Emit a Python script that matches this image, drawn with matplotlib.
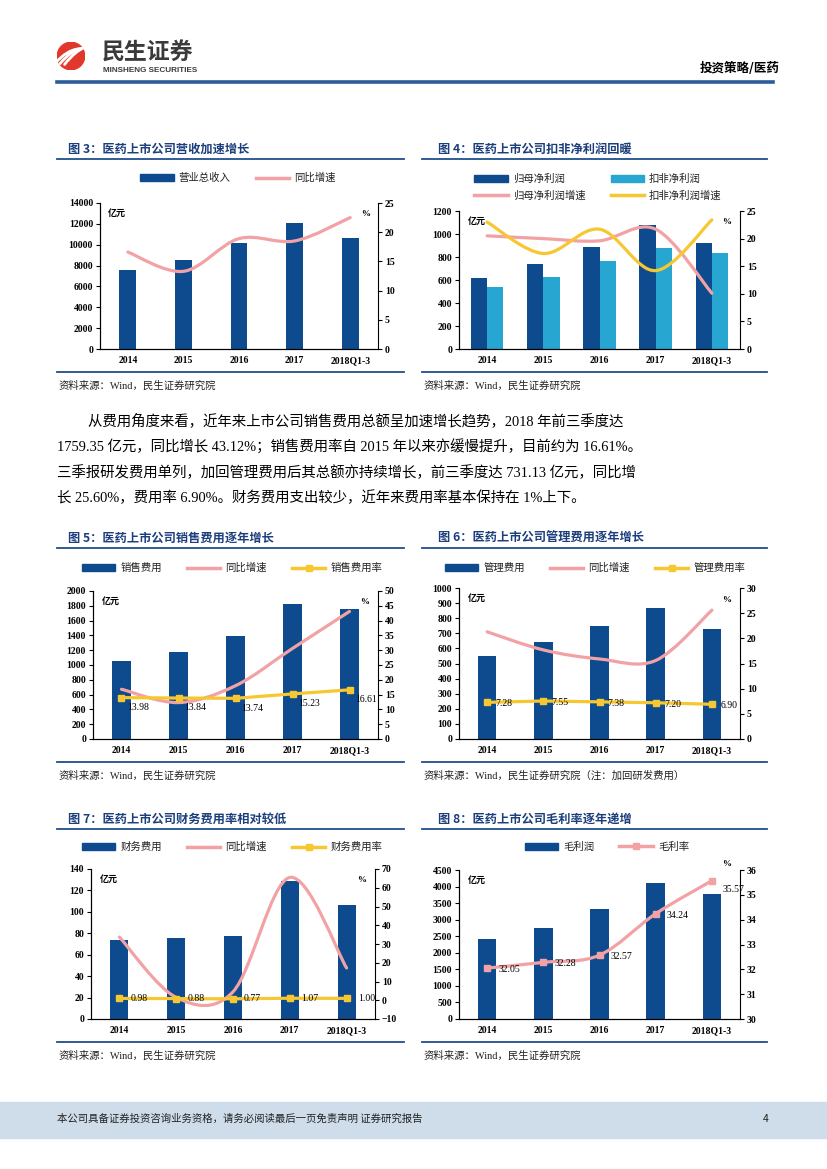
import numpy as np
import matplotlib
matplotlib.use('Agg')
import matplotlib.pyplot as plt
import matplotlib.patches as mpatches
from matplotlib.path import Path
from matplotlib.lines import Line2D


W, H = 827, 1169

CJK = ['Noto Sans CJK SC', 'DejaVu Sans']
MIX = ['Liberation Serif', 'Noto Sans CJK SC', 'DejaVu Sans']

DARK = '#0D4B8E'
LIGHT = '#26A6D1'
PINK = '#F2A2A4'
GOLD = '#F7C731'
NAVY = '#1C3F7C'
RULE = '#1F4E8C'
TXT = '#222222'

years = ['2014', '2015', '2016', '2017', '2018Q1-3']

# 图3 营收
revenue = [7570, 8560, 10200, 12080, 10640]
revenue_growth = [16.6, 13.3, 18.9, 18.5, 22.5]

# 图4 净利润
np_parent = [616, 740, 888, 1076, 922]
np_deducted = [535, 630, 769, 879, 839]
np_parent_growth = [20.5, 20.0, 19.6, 21.7, 10.1]
np_deducted_growth = [23.0, 17.3, 21.7, 14.2, 23.4]

# 图5 销售费用
sales_exp = [1054, 1179, 1390, 1830, 1759]
sales_growth = [16.8, 12.3, 18.0, 30.6, 43.1]
sales_rate = [13.98, 13.84, 13.74, 15.23, 16.61]

# 图6 管理费用
admin_exp = [547, 645, 750, 868, 731]
admin_growth = [21.3, 17.7, 15.9, 15.6, 25.6]
admin_rate = [7.28, 7.55, 7.38, 7.20, 6.90]

# 图7 财务费用
fin_exp = [74, 75.6, 77.8, 128.5, 106.7]
fin_growth = [33.7, 1.5, 4.5, 65.5, 17.2]
fin_rate = [0.98, 0.88, 0.77, 1.07, 1.00]

# 图8 毛利
gross_profit = [2421, 2762, 3315, 4118, 3767]
gross_margin = [32.05, 32.28, 32.57, 34.24, 35.57]

para = ['从费用角度来看，近年来上市公司销售费用总额呈加速增长趋势，2018 年前三季度达',
		'1759.35 亿元，同比增长 43.12%；销售费用率自 2015 年以来亦缓慢提升，目前约为 16.61%。',
		'三季报研发费用单列，加回管理费用后其总额亦持续增长，前三季度达 731.13 亿元，同比增',
		'长 25.60%，费用率 6.90%。财务费用支出较少，近年来费用率基本保持在 1%上下。']


def fx(x):
	return x / W


def fy(y):
	return 1 - y / H


def hline(fig, x0, x1, y, color=RULE, lw=1.3):
	fig.add_artist(Line2D([fx(x0), fx(x1)], [fy(y), fy(y)], color=color, lw=lw,
						  transform=fig.transFigure))


def smooth_path(xs, ys):
	""" Excel style smoothed line through the points, as cubic bezier segments """
	pts = np.column_stack([xs, ys]).astype(float)
	n = len(pts)
	verts = [pts[0]]
	codes = [Path.MOVETO]
	for i in range(n - 1):
		p0 = pts[max(i - 1, 0)]
		p1 = pts[i]
		p2 = pts[i + 1]
		p3 = pts[min(i + 2, n - 1)]
		verts += [p1 + (p2 - p0) / 6.0, p2 - (p3 - p1) / 6.0, p2]
		codes += [Path.CURVE4] * 3
	return Path(verts, codes)


def smooth_line(ax, values, color, lw=2.3, zorder=3):
	path = smooth_path(np.arange(len(values)), values)
	ax.add_patch(mpatches.PathPatch(path, facecolor='none', edgecolor=color, lw=lw,
									capstyle='round', zorder=zorder))


def chart_frame(fig, box, left_max, left_step, right_min, right_max, right_step, pct_y=0.95):
	l, t, r, b = box
	ax = fig.add_axes([fx(l), fy(b), (r - l) / W, (b - t) / H])
	ax2 = ax.twinx()
	ax.set_xlim(-0.5, len(years) - 0.5)
	ax.set_ylim(0, left_max)
	ax.set_yticks(np.arange(0, left_max + 1, left_step))
	ax2.set_ylim(right_min, right_max)
	ax2.set_yticks(np.arange(right_min, right_max + 1, right_step))
	ax.set_xticks(range(len(years)))
	ax.set_xticklabels(years)
	for a in (ax, ax2):
		a.spines['top'].set_visible(False)
		a.tick_params(axis='y', direction='out', length=3, width=0.8, labelsize=7, pad=2)
	ax.spines['right'].set_visible(False)
	ax.tick_params(axis='x', length=0, labelsize=7, pad=5)
	for lab in ax.get_yticklabels() + ax2.get_yticklabels() + ax.get_xticklabels():
		lab.set_fontweight('bold')
		lab.set_color('black')
	ax.text(0.03, 0.96, '亿元', transform=ax.transAxes, family=CJK, weight='bold',
			fontsize=6.5, va='top', ha='left')
	ax2.text(0.97, pct_y, '%', transform=ax2.transAxes, weight='bold',
			 fontsize=6.5, va='top', ha='right')
	return ax, ax2


def panel_text(fig, col, title, title_y, bottom_y, source):
	if col == 0:
		x0, x1, tx = 57, 404, 68
	else:
		x0, x1, tx = 422, 767, 438
	fig.text(fx(tx), fy(title_y), title, family=CJK, weight='bold', fontsize=8.8,
			 color=NAVY, va='center', ha='left')
	hline(fig, x0, x1, title_y + 10)
	hline(fig, x0, x1, bottom_y)
	fig.text(fx(x0 + 2), fy(bottom_y + 14), source, family=MIX, fontsize=7.5,
			 color=TXT, va='center', ha='left')


def add_legend(fig, handles, labels, cx, cy, ncol, rowgap=0.35):
	fig.legend(handles, labels, loc='center', bbox_to_anchor=(fx(cx), fy(cy)), ncol=ncol,
			   frameon=False, prop={'family': CJK, 'size': 7.5}, handlelength=3.2,
			   handletextpad=0.5, columnspacing=2.4, labelspacing=rowgap, labelcolor=TXT)


def rate_labels(ax, values, dx, dy, last_dy=None):
	for i, v in enumerate(values):
		oy = dy
		if last_dy is not None and i == len(values) - 1:
			oy = last_dy
		ax.annotate('%.2f' % v, (i, v), xytext=(dx, oy), textcoords='offset points',
					ha='left', va='center', fontsize=7, color='black', zorder=6)


def header_footer(fig):
	# logo
	lax = fig.add_axes([fx(57), fy(70), 28 / W, 28 / H])
	lax.set_xlim(-1, 1)
	lax.set_ylim(-1, 1)
	lax.set_aspect('equal')
	lax.axis('off')
	lax.add_patch(mpatches.Circle((0, 0), 0.98, color='#E0392B'))
	for k in range(3):
		off = -0.35 + 0.32 * k
		p = Path([(-0.75 + off, -0.55 - off * 0.2), (-0.2 + off, 0.1), (0.3 + off, 0.45),
				  (0.75 + off * 0.5, 0.55 + off * 0.1)],
				 [Path.MOVETO, Path.CURVE4, Path.CURVE4, Path.CURVE4])
		lax.add_patch(mpatches.PathPatch(p, facecolor='none', edgecolor='white', lw=2.0,
										 capstyle='round'))
	fig.text(fx(102), fy(53), '民生证券', family=CJK, weight='bold', fontsize=16.5,
			 color='#3A3A3A', va='center', ha='left')
	fig.text(fx(103), fy(71), 'MINSHENG SECURITIES', family=['Liberation Sans'], weight='bold',
			 fontsize=5.9, color='#3A3A3A', va='center', ha='left')
	fig.text(fx(780), fy(68), '投资策略/医药', family=CJK, weight='bold', fontsize=9,
			 color='black', va='center', ha='right')
	hline(fig, 57, 773, 82, color='#2C5C9A', lw=2.6)

	# footer band
	fig.add_artist(mpatches.Rectangle((0, fy(1138)), 1, 36 / H, transform=fig.transFigure,
									  color='#CFDCEA', zorder=0))
	fig.text(fx(57), fy(1119), '本公司具备证券投资咨询业务资格，请务必阅读最后一页免责声明 证券研究报告',
			 family=CJK, fontsize=7.5, color=TXT, va='center', ha='left')
	fig.text(fx(766), fy(1119), '4', family=CJK, fontsize=7.5, color=TXT, va='center', ha='center')


def main():
	plt.rcParams['font.family'] = MIX
	fig = plt.figure(figsize=(W / 100, H / 100), dpi=100)
	fig.patch.set_facecolor('white')
	x = np.arange(len(years))

	bar_h = mpatches.Patch(color=DARK)
	light_h = mpatches.Patch(color=LIGHT)
	pink_h = Line2D([], [], color=PINK, lw=2.5)
	gold_h = Line2D([], [], color=GOLD, lw=2.5)
	gold_m = Line2D([], [], color=GOLD, lw=2.5, marker='s', ms=5)
	pink_m = Line2D([], [], color=PINK, lw=2.5, marker='s', ms=5)

	# 图3
	panel_text(fig, 0, '图 3：医药上市公司营收加速增长', 149, 372, '资料来源：Wind，民生证券研究院')
	ax, ax2 = chart_frame(fig, (100, 203, 378, 349), 14000, 2000, 0, 25, 5)
	ax.bar(x, revenue, width=0.3, color=DARK, zorder=2)
	smooth_line(ax2, revenue_growth, PINK)
	add_legend(fig, [bar_h, pink_h], ['营业总收入', '同比增速'], 238, 178, 2)

	# 图4
	panel_text(fig, 1, '图 4：医药上市公司扣非净利润回暖', 149, 372, '资料来源：Wind，民生证券研究院')
	ax, ax2 = chart_frame(fig, (459, 211, 740, 349), 1200, 200, 0, 25, 5)
	ax.bar(x - 0.145, np_parent, width=0.29, color=DARK, zorder=2)
	ax.bar(x + 0.145, np_deducted, width=0.29, color=LIGHT, zorder=2)
	smooth_line(ax2, np_parent_growth, PINK)
	smooth_line(ax2, np_deducted_growth, GOLD, zorder=4)
	add_legend(fig, [bar_h, pink_h, light_h, gold_h],
			   ['归母净利润', '归母净利润增速', '扣非净利润', '扣非净利润增速'], 598, 187, 2, rowgap=0.6)

	# 正文
	fig.text(fx(88), fy(421), para[0], family=MIX, fontsize=10.4, color='black', va='center')
	for k, line in enumerate(para[1:]):
		fig.text(fx(57), fy(447 + 25.5 * k), line, family=MIX, fontsize=10.4, color='black',
				 va='center')

	# 图5
	panel_text(fig, 0, '图 5：医药上市公司销售费用逐年增长', 538, 762, '资料来源：Wind，民生证券研究院')
	ax, ax2 = chart_frame(fig, (93, 591, 378, 739), 2000, 200, 0, 50, 5)
	ax.bar(x, sales_exp, width=0.32, color=DARK, zorder=2)
	smooth_line(ax2, sales_growth, PINK)
	ax2.plot(x, sales_rate, color=GOLD, lw=2.3, marker='s', ms=5, zorder=5)
	rate_labels(ax2, sales_rate, 4, -7)
	add_legend(fig, [bar_h, pink_h, gold_m], ['销售费用', '同比增速', '销售费用率'], 232, 568, 3)

	# 图6
	panel_text(fig, 1, '图 6：医药上市公司管理费用逐年增长', 538, 762,
			   '资料来源：Wind，民生证券研究院（注：加回研发费用）')
	ax, ax2 = chart_frame(fig, (459, 588, 740, 739), 1000, 100, 0, 30, 5)
	ax.bar(x, admin_exp, width=0.33, color=DARK, zorder=2)
	smooth_line(ax2, admin_growth, PINK)
	ax2.plot(x, admin_rate, color=GOLD, lw=2.3, marker='s', ms=5, zorder=5)
	rate_labels(ax2, admin_rate, 6, -1)
	add_legend(fig, [bar_h, pink_h, gold_m], ['管理费用', '同比增速', '管理费用率'], 595, 568, 3)

	# 图7
	panel_text(fig, 0, '图 7：医药上市公司财务费用率相对较低', 819, 1042, '资料来源：Wind，民生证券研究院')
	ax, ax2 = chart_frame(fig, (91, 869, 375, 1019), 140, 20, -10, 70, 10)
	ax.bar(x, fin_exp, width=0.32, color=DARK, zorder=2)
	smooth_line(ax2, fin_growth, PINK)
	ax2.plot(x, fin_rate, color=GOLD, lw=2.3, marker='s', ms=5, zorder=5)
	rate_labels(ax2, fin_rate, 8, 0)
	add_legend(fig, [bar_h, pink_h, gold_m], ['财务费用', '同比增速', '财务费用率'], 232, 847, 3)

	# 图8
	panel_text(fig, 1, '图 8：医药上市公司毛利率逐年递增', 819, 1042, '资料来源：Wind，民生证券研究院')
	ax, ax2 = chart_frame(fig, (459, 870, 740, 1019), 4500, 500, 30, 36, 1, pct_y=1.07)
	ax.bar(x, gross_profit, width=0.33, color=DARK, zorder=2)
	smooth_line(ax2, gross_margin, PINK)
	ax2.plot(x, gross_margin, color=PINK, lw=0, marker='s', ms=5, zorder=5)
	rate_labels(ax2, gross_margin, 8, -1, last_dy=-6)
	add_legend(fig, [bar_h, pink_m], ['毛利润', '毛利率'], 607, 847, 2)

	header_footer(fig)
	fig.savefig('out.png', dpi=100, facecolor='white')


if __name__ == "__main__":
	main()
